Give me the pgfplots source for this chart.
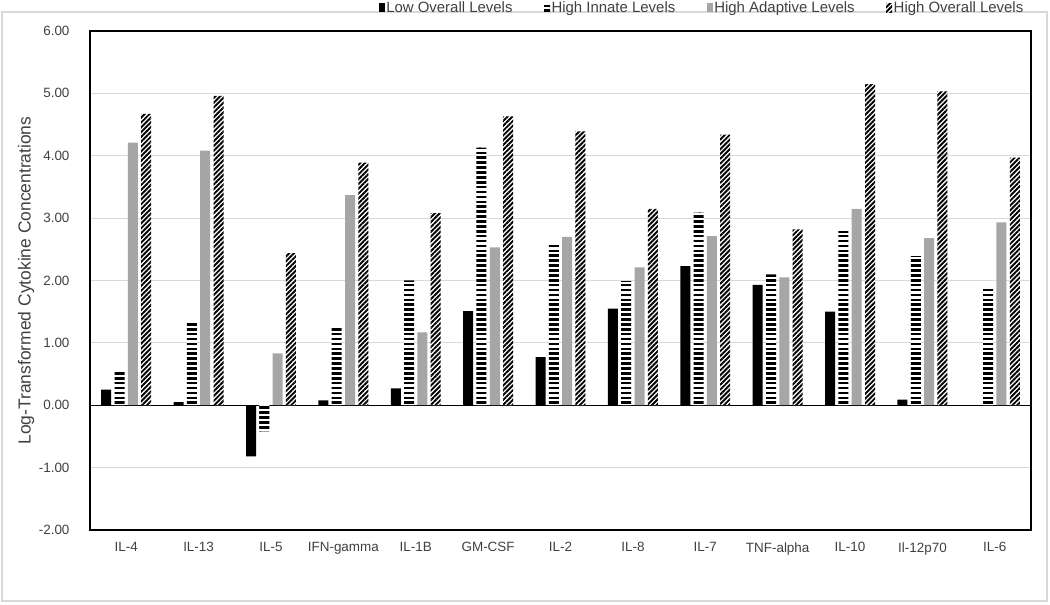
\documentclass[border=0pt]{standalone}
\usepackage{pgfplots}
\pgfplotsset{compat=1.18}
\usepackage{fontspec}
\setmainfont{Liberation Sans}
\usetikzlibrary{patterns.meta}
\definecolor{txt}{HTML}{404040}
\definecolor{grd}{HTML}{D9D9D9}
\definecolor{bargray}{HTML}{A6A6A6}
% horizontal stripes, tiles overlap so no seams show
\tikzdeclarepattern{
  name=hstripes, type=uncolored,
  bottom left={(-1bp,0bp)}, top right={(21bp,4.9bp)},
  tile size={(20bp,4.9bp)},
  code={\pgfpathrectangle{\pgfpoint{-1bp}{0bp}}{\pgfpoint{22bp}{2.6bp}}\pgfusepath{fill}}
}

\begin{document}
\begin{tikzpicture}[x=1bp,y=1bp]
\useasboundingbox (0,0) rectangle (1050,605);
\draw[grd, line width=1.2bp] (2,4) rectangle (1047,593);
\begin{axis}[
  at={(90bp,75bp)}, anchor=south west,
  scale only axis, width=941bp, height=499bp,
  ybar=3.3bp, bar width=10bp,
  xmin=-0.5, xmax=12.5,
  ymin=-2, ymax=6,
  xtick={0,...,12},
  xticklabels={IL-4,IL-13,IL-5,IFN-gamma,IL-1B,GM-CSF,IL-2,IL-8,IL-7,TNF-alpha,IL-10,Il-12p70,IL-6},
  ytick={-2,...,6},
  ymajorgrids, grid style={grd, line width=1.2bp},
  extra y ticks={0}, extra y tick labels={},
  extra y tick style={grid style={black, line width=0.9bp}},
  axis line style={black, line width=1.3bp},
  major tick length=0,
  /pgf/number format/assume math mode=true,
  ticklabel style={font=\fontsize{13.5}{15}\selectfont, text=txt},
  yticklabel style={xshift=-17bp, /pgf/number format/.cd, fixed, fixed zerofill, precision=2},
  xticklabel style={yshift=-9bp},
  ylabel={Log-Transformed Cytokine Concentrations},
  ylabel style={font=\fontsize{17.5}{20}\selectfont, text=txt, at={(axis description cs:-0.068,0.5)}, anchor=center},
  legend columns=4,
  legend style={draw=none, fill=none, at={(axis description cs:0.9936,1.047)}, anchor=east,
    font=\fontsize{15}{17}\selectfont, text=txt, inner sep=0pt, nodes={inner sep=1.5bp},
    /tikz/every even column/.append style={column sep=30bp}},
  legend cell align=left,
  legend image code/.code={\draw[#1, draw=none] (0bp,-4.5bp) rectangle (6bp,4.5bp);},
]
\addplot[fill=black, draw=none] coordinates {
(0,0.25) (1,0.05) (2,-0.82) (3,0.08) (4,0.27) (5,1.51) (6,0.77)
(7,1.55) (8,2.23) (9,1.93) (10,1.50) (11,0.09) (12,0)};
\addplot[fill=white, draw=none, postaction={pattern=hstripes, pattern color=black}] coordinates {
(0,0.53) (1,1.32) (2,-0.42) (3,1.27) (4,2.00) (5,4.13) (6,2.59)
(7,1.99) (8,3.09) (9,2.10) (10,2.79) (11,2.39) (12,1.91)};
\addplot[fill=bargray, draw=none] coordinates {
(0,4.21) (1,4.08) (2,0.83) (3,3.37) (4,1.17) (5,2.53) (6,2.70)
(7,2.21) (8,2.71) (9,2.05) (10,3.15) (11,2.68) (12,2.93)};
\addplot[fill=white, draw=none, postaction={pattern={Lines[angle=45,distance=3.4bp,line width=1.9bp]}, pattern color=black}] coordinates {
(0,4.67) (1,4.96) (2,2.44) (3,3.89) (4,3.08) (5,4.63) (6,4.39)
(7,3.15) (8,4.34) (9,2.82) (10,5.15) (11,5.03) (12,3.97)};
\legend{Low Overall Levels, High Innate Levels, High Adaptive Levels, High Overall Levels}
\end{axis}
\end{tikzpicture}
\end{document}
